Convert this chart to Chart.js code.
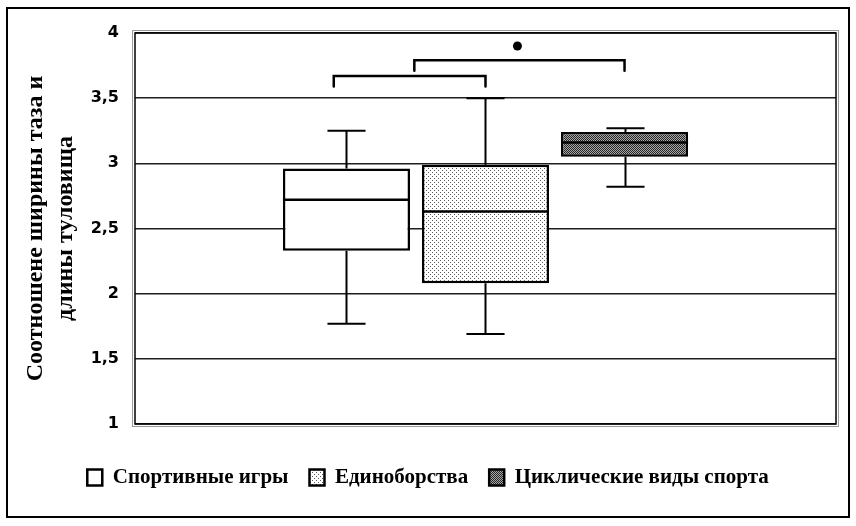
<!DOCTYPE html>
<html lang="ru">
<head>
    <meta charset="UTF-8">
    <title>Box plot</title>
    <script src="https://cdn.jsdelivr.net/npm/chart.js"></script>
    <style>
        body { margin: 0; background: #fff; }
        canvas { display: block; }
    </style>
</head>
<body>
    <canvas id="boxChart" width="856" height="526"></canvas>
    <script>
        // Data
        let seriesNames = ["Спортивные игры", "Единоборства", "Циклические виды спорта"];
        let minValues = [1.77, 1.69, 2.82];
        let q1Values = [2.33, 2.08, 3.05];
        let medianValues = [2.72, 2.63, 3.16];
        let q3Values = [2.96, 2.99, 3.24];
        let maxValues = [3.25, 3.50, 3.27];
        let yTicks = [1, 1.5, 2, 2.5, 3, 3.5, 4];
        let axisTitle = ["Соотношене ширины таза и", "длины туловища"];

        // Significance brackets: [from series, to series, top value]
        let bracketFrom = [0, 1];
        let bracketTo = [1, 2];
        let bracketTop = [3.67, 3.79];
        let bracketDrop = 0.08;
        let markerValue = 3.90;

        // Fill patterns like in the original
        function makePattern(bg, dot, cells) {
            let c = document.createElement("canvas");
            c.width = 4; c.height = 4;
            let g = c.getContext("2d");
            g.fillStyle = bg;
            g.fillRect(0, 0, 4, 4);
            g.fillStyle = dot;
            cells.forEach(p => g.fillRect(p[0], p[1], 1, 1));
            return g.createPattern(c, "repeat");
        }
        let dotPattern = makePattern("#ffffff", "#5a5a5a", [[0, 0], [2, 2]]);
        let darkPattern = makePattern("#a8a8a8", "#262626",
            [[0, 0], [2, 0], [1, 1], [3, 1], [0, 2], [2, 2], [1, 3], [3, 3]]);
        let fills = ["#ffffff", dotPattern, darkPattern];

        // Whiskers, medians, brackets, frames
        const boxExtras = {
            id: "boxExtras",
            beforeDraw(chart) {
                let ctx = chart.ctx;
                ctx.save();
                ctx.fillStyle = "#fff";
                ctx.fillRect(0, 0, chart.width, chart.height);
                ctx.strokeStyle = "#000";
                ctx.lineWidth = 2;
                ctx.strokeRect(7, 8, 842, 509);
                ctx.restore();
            },
            beforeDatasetsDraw(chart) {
                let ctx = chart.ctx, y = chart.scales.y;
                ctx.save();
                ctx.strokeStyle = "#000";
                ctx.lineWidth = 2;
                chart.data.datasets.forEach((ds, i) => {
                    let bar = chart.getDatasetMeta(i).data[0];
                    let x = Math.round(bar.x) + 0.5;
                    let cap = bar.width * 0.15;
                    ctx.beginPath();
                    ctx.moveTo(x, y.getPixelForValue(q3Values[i]));
                    ctx.lineTo(x, y.getPixelForValue(maxValues[i]));
                    ctx.moveTo(x, y.getPixelForValue(q1Values[i]));
                    ctx.lineTo(x, y.getPixelForValue(minValues[i]));
                    ctx.moveTo(x - cap, y.getPixelForValue(maxValues[i]));
                    ctx.lineTo(x + cap, y.getPixelForValue(maxValues[i]));
                    ctx.moveTo(x - cap, y.getPixelForValue(minValues[i]));
                    ctx.lineTo(x + cap, y.getPixelForValue(minValues[i]));
                    ctx.stroke();
                });
                ctx.restore();
            },
            afterDatasetsDraw(chart) {
                let ctx = chart.ctx, y = chart.scales.y, area = chart.chartArea;
                ctx.save();
                ctx.strokeStyle = "#000";
                ctx.lineWidth = 2.5;
                chart.data.datasets.forEach((ds, i) => {
                    let bar = chart.getDatasetMeta(i).data[0];
                    let py = y.getPixelForValue(medianValues[i]);
                    ctx.beginPath();
                    ctx.moveTo(bar.x - bar.width / 2, py);
                    ctx.lineTo(bar.x + bar.width / 2, py);
                    ctx.stroke();
                });

                // brackets
                let bars = chart.data.datasets.map((d, i) => chart.getDatasetMeta(i).data[0]);
                let leftShift = [-0.1, -0.56];
                ctx.lineWidth = 2.5;
                ctx.lineCap = "round";
                let mid = 0;
                bracketTop.forEach((v, k) => {
                    let a = bars[bracketFrom[k]], b = bars[bracketTo[k]];
                    let x1 = a.x + a.width * leftShift[k];
                    let x2 = b.x;
                    let top = y.getPixelForValue(v);
                    let low = y.getPixelForValue(v - bracketDrop);
                    ctx.beginPath();
                    ctx.moveTo(x1, low);
                    ctx.lineTo(x1, top);
                    ctx.lineTo(x2, top);
                    ctx.lineTo(x2, low);
                    ctx.stroke();
                    mid = (x1 + x2) / 2;
                });
                ctx.fillStyle = "#000";
                ctx.beginPath();
                ctx.arc(mid - 2, y.getPixelForValue(markerValue), 4.5, 0, Math.PI * 2);
                ctx.fill();

                // plot frame
                ctx.lineCap = "butt";
                ctx.strokeStyle = "#9a9a9a";
                ctx.lineWidth = 1;
                ctx.strokeRect(area.left - 2.5, area.top - 2.5, area.width + 5, area.height + 5);
                ctx.strokeStyle = "#000";
                ctx.lineWidth = 1.5;
                ctx.strokeRect(area.left, area.top, area.width, area.height);
                ctx.restore();
            }
        };

        let datasets = seriesNames.map((name, i) => ({
            label: name,
            data: [[q1Values[i], q3Values[i]]],
            backgroundColor: fills[i],
            borderColor: "#000",
            borderWidth: 2.5,
            borderSkipped: false,
            categoryPercentage: 0.595,
            barPercentage: 0.914
        }));

        let boxConfig = {
            type: "bar",
            data: { labels: [""], datasets: datasets },
            options: {
                responsive: false,
                animation: false,
                layout: { padding: { left: 20, right: 20, top: 33, bottom: 28 } },
                plugins: {
                    tooltip: { enabled: false },
                    legend: {
                        position: "bottom",
                        labels: {
                            color: "#000",
                            boxWidth: 15,
                            boxHeight: 16,
                            padding: 21,
                            font: { family: "Liberation Serif", size: 21, weight: "bold" }
                        }
                    }
                },
                scales: {
                    x: {
                        ticks: { display: false },
                        grid: { display: false },
                        border: { display: false },
                        afterFit(scale) { scale.height = 22; }
                    },
                    y: {
                        min: yTicks[0],
                        max: yTicks[yTicks.length - 1],
                        afterBuildTicks(scale) { scale.ticks = yTicks.map(v => ({ value: v })); },
                        afterFit(scale) { scale.width = 115; },
                        ticks: {
                            color: "#000",
                            padding: 16,
                            font: { family: "DejaVu Sans", size: 16, weight: "bold" },
                            callback: v => String(v).replace(".", ",")
                        },
                        grid: { color: "#1e1e1e", lineWidth: 1.5, drawTicks: false },
                        border: { display: false },
                        title: {
                            display: true,
                            text: axisTitle,
                            color: "#000",
                            padding: { top: 1, bottom: 0 },
                            font: { family: "Liberation Serif", size: 24, weight: "bold", lineHeight: 30 / 24 }
                        }
                    }
                }
            },
            plugins: [boxExtras]
        };

        new Chart(document.getElementById("boxChart"), boxConfig);
    </script>
</body>
</html>
